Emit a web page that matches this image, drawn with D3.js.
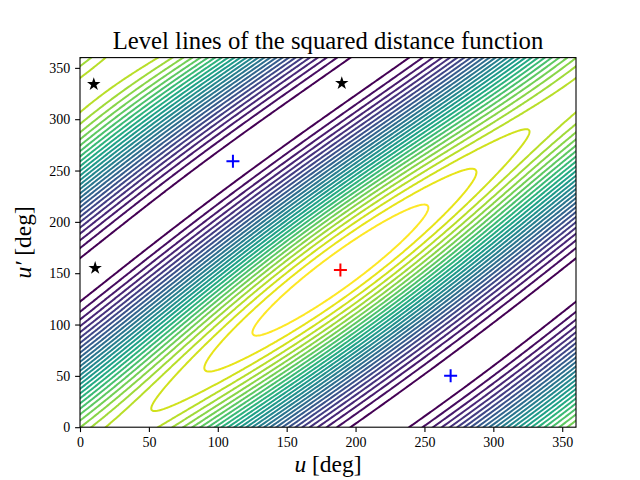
<!DOCTYPE html>
<html>
<head>
<meta charset="utf-8">
<script src="https://cdn.jsdelivr.net/npm/d3@7"></script>
<style>
  body { margin: 0; background: #fff; }
  text { font-family: "Liberation Serif", "DejaVu Serif", serif; fill: #000; }
</style>
</head>
<body>
<svg width="640" height="480"></svg>
<script>
// critical points, [u, u'] in degrees
const maxima = [[189, 153]];
const minima = [[111, 259], [269, 50]];
const saddles = [[10, 334], [190, 335], [11, 155]];

const xTicks = [0, 50, 100, 150, 200, 250, 300, 350];
const yTicks = [0, 50, 100, 150, 200, 250, 300, 350];

// d2(u,u') ~ A cos(p - q) + B cos p + C cos q,  p = u - 189, q = u' - 153
const coef = [1, 0.06, 0.0605];
const levelTop = 1.0545, levelStep = 0.0711, levelCount = 29;

const margin = {top: 57.6, right: 64, bottom: 52.8, left: 80},
    width = 640 - margin.left - margin.right,
    height = 480 - margin.top - margin.bottom;

const svg = d3.select("svg");
const g = svg.append("g").attr("transform", `translate(${margin.left},${margin.top})`);

const x = d3.scaleLinear().domain([0, 360]).range([0, width]);
const y = d3.scaleLinear().domain([0, 360]).range([height, 0]);

// sample the function on a grid a bit wider than the axes
const step = 1, pad = 5;
const us = d3.range(-pad, 360 + pad + step, step);
const nx = us.length, ny = us.length;
const rad = Math.PI / 180;
const values = new Float64Array(nx * ny);
for (let j = 0; j < ny; j++) {
  const q = (us[j] - maxima[0][1]) * rad;
  for (let i = 0; i < nx; i++) {
    const p = (us[i] - maxima[0][0]) * rad;
    values[j * nx + i] = coef[0] * Math.cos(p - q) + coef[1] * Math.cos(p) + coef[2] * Math.cos(q);
  }
}

const levels = d3.range(levelCount).map(k => levelTop - k * levelStep).reverse();
const color = d3.scaleSequential(d3.interpolateViridis).domain([levels[0], levels[levels.length - 1]]);

const contours = d3.contours().size([nx, ny]).thresholds(levels)(values);

const proj = d3.geoTransform({
  point: function(cx, cy) {
    this.stream.point(x(us[0] + (cx - 0.5) * step), y(us[0] + (cy - 0.5) * step));
  }
});
const path = d3.geoPath(proj);

g.append("clipPath").attr("id", "clip")
  .append("rect").attr("width", width).attr("height", height);

g.append("g").attr("clip-path", "url(#clip)")
  .selectAll("path")
  .data(contours)
  .join("path")
  .attr("d", path)
  .attr("fill", "none")
  .attr("stroke", d => color(d.value))
  .attr("stroke-width", 2)
  .attr("stroke-linejoin", "round");

// markers
const plus = "M-6.5,0H6.5M0,-6.5V6.5";
g.selectAll(".min").data(minima).join("path")
  .attr("d", plus).attr("transform", d => `translate(${x(d[0])},${y(d[1])})`)
  .attr("stroke", "#0000ff").attr("stroke-width", 2).attr("fill", "none");
g.selectAll(".max").data(maxima).join("path")
  .attr("d", plus).attr("transform", d => `translate(${x(d[0])},${y(d[1])})`)
  .attr("stroke", "#ff0000").attr("stroke-width", 2).attr("fill", "none");
g.selectAll(".saddle").data(saddles).join("path")
  .attr("d", d3.symbol(d3.symbolStar, 56))
  .attr("transform", d => `translate(${x(d[0])},${y(d[1])})`)
  .attr("fill", "#000");

// axes
const xAxis = g.append("g")
  .attr("transform", `translate(0,${height})`)
  .call(d3.axisBottom(x).tickValues(xTicks).tickSize(4.9).tickPadding(4.9));
const yAxis = g.append("g")
  .call(d3.axisLeft(y).tickValues(yTicks).tickSize(4.9).tickPadding(4.9));
[xAxis, yAxis].forEach(a => {
  a.select(".domain").remove();
  a.selectAll("line").attr("stroke", "#000").attr("stroke-width", 1.1);
  a.selectAll("text").style("font-family", "Liberation Serif").style("font-size", "14px");
});

g.append("rect").attr("width", width).attr("height", height)
  .attr("fill", "none").attr("stroke", "#000").attr("stroke-width", 1.1);

svg.append("text")
  .attr("x", margin.left + width / 2).attr("y", 49)
  .attr("text-anchor", "middle").style("font-size", "24.7px")
  .text("Level lines of the squared distance function");

const xl = svg.append("text")
  .attr("x", margin.left + width / 2).attr("y", 472)
  .attr("text-anchor", "middle").style("font-size", "23.5px");
xl.append("tspan").style("font-style", "italic").text("u");
xl.append("tspan").text(" [deg]");

const yl = svg.append("text")
  .attr("transform", `translate(31,${margin.top + height / 2}) rotate(-90)`)
  .attr("text-anchor", "middle").style("font-size", "23.5px");
yl.append("tspan").style("font-style", "italic").text("u′");
yl.append("tspan").text(" [deg]");
</script>
</body>
</html>
